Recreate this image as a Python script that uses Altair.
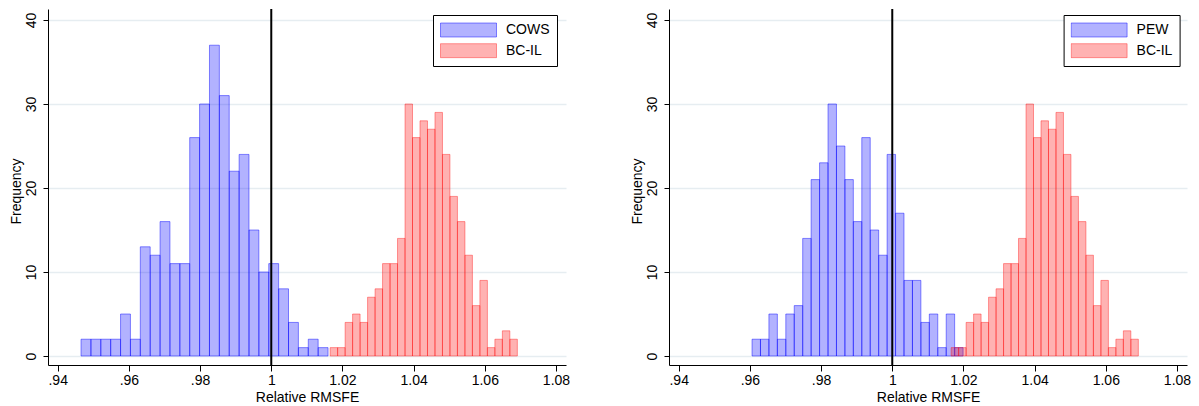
import altair as alt
import pandas as pd

# ---------------- data ----------------
left_series = ["COWS", "BC-IL"]
right_series = ["PEW", "BC-IL"]

cows_bin_start = 0.94655
cows_bin_width = 0.002776
cows_counts = [2, 2, 2, 2, 5, 2, 13, 12, 16, 11, 11, 26, 30, 37, 31, 22, 24, 15, 10, 11, 8, 4, 1, 2, 1]

pew_bin_start = 0.9606
pew_bin_width = 0.002372
pew_counts = [2, 2, 5, 2, 5, 6, 14, 21, 23, 30, 25, 21, 16, 26, 15, 12, 24, 17, 9, 9, 4, 5, 1, 5, 1]

bcil_bin_start = 1.01654
bcil_bin_width = 0.002104
bcil_counts = [1, 1, 4, 5, 4, 7, 8, 11, 11, 14, 30, 26, 28, 27, 29, 24, 19, 16, 12, 6, 9, 1, 2, 3, 2]

x_tick_values = [0.94, 0.96, 0.98, 1.0, 1.02, 1.04, 1.06, 1.08]
x_tick_labels = [".94", ".96", ".98", "1", "1.02", "1.04", "1.06", "1.08"]
y_tick_values = [0, 10, 20, 30, 40]
ref_line = [1.0]

x_domain = [0.93727, 1.08281]
y_domain = [-1.07, 41.31]

FONT = "Liberation Sans"
fill_range = ["rgba(0,0,255,0.3)", "rgba(255,0,0,0.3)"]
stroke_range = ["rgba(0,0,255,0.45)", "rgba(255,0,0,0.38)"]


def hist_rows(name, start, width, counts):
    return [
        {"series": name, "x0": start + i * width, "x1": start + (i + 1) * width, "count": c}
        for i, c in enumerate(counts)
    ]


label_expr = " : ".join(
    f"abs(datum.value - {v}) < 1e-6 ? '{t}'" for v, t in zip(x_tick_values, x_tick_labels)
) + " : ''"

x_axis = alt.Axis(
    values=x_tick_values, labelExpr=label_expr, grid=False,
    domainColor="black", domainWidth=1, tickColor="black", tickSize=6, tickWidth=1,
    labelFont=FONT, labelFontSize=14, labelColor="black", labelPadding=2,
    labelFlush=False, labelOverlap=False,
    titleFont=FONT, titleFontSize=14, titleColor="black", titleFontWeight="normal",
    titlePadding=3,
)

y_axis = alt.Axis(
    values=y_tick_values, grid=True, gridColor="#e6edf1", gridWidth=1.5,
    domainColor="black", domainWidth=1, tickColor="black", tickSize=5, tickWidth=1,
    labelFont=FONT, labelFontSize=14, labelColor="black",
    labelAngle=270, labelAlign="center", labelBaseline="alphabetic", labelPadding=8,
    labelFlush=False, labelOverlap=False,
    titleFont=FONT, titleFontSize=14, titleColor="black", titleFontWeight="normal",
    titleAngle=270, titleAlign="center", titleBaseline="alphabetic",
    titleX=-28, titleY=182,
)


def panel(rows, domain, legend_x):
    df = pd.DataFrame(rows)
    legend = alt.Legend(
        title=None, orient="none", legendX=legend_x, legendY=6,
        direction="vertical",
        symbolType="M-1,-0.25H1V0.25H-1Z", symbolSize=3136, symbolStrokeWidth=1,
        clipHeight=16, rowPadding=4.7, labelOffset=9, padding=7,
        labelFont=FONT, labelFontSize=14, labelColor="black",
        strokeColor="black", fillColor="white",
    )
    bars = alt.Chart(df).mark_bar(strokeWidth=1).encode(
        x=alt.X("x0:Q", scale=alt.Scale(domain=x_domain, nice=False, zero=False),
                axis=x_axis, title="Relative RMSFE"),
        x2="x1:Q",
        y=alt.Y("count:Q", scale=alt.Scale(domain=y_domain, nice=False, zero=False),
                axis=y_axis, title="Frequency"),
        y2=alt.datum(0),
        fill=alt.Fill("series:N", scale=alt.Scale(domain=domain, range=fill_range), legend=legend),
        stroke=alt.Stroke("series:N", scale=alt.Scale(domain=domain, range=stroke_range), legend=legend),
    )
    rule = alt.Chart(pd.DataFrame({"ref": ref_line})).mark_rule(
        color="black", strokeWidth=2
    ).encode(x=alt.X("ref:Q", title="Relative RMSFE"))
    return alt.layer(bars, rule).properties(width=518, height=356)


left = panel(
    hist_rows(left_series[0], cows_bin_start, cows_bin_width, cows_counts)
    + hist_rows(left_series[1], bcil_bin_start, bcil_bin_width, bcil_counts),
    left_series, 385,
)
right = panel(
    hist_rows(right_series[0], pew_bin_start, pew_bin_width, pew_counts)
    + hist_rows(right_series[1], bcil_bin_start, bcil_bin_width, bcil_counts),
    right_series, 394.6,
)

chart = (
    alt.hconcat(left, right, spacing=60)
    .resolve_scale(fill="independent", stroke="independent")
    .resolve_legend(fill="independent", stroke="independent")
    .properties(padding={"left": 1, "top": 0, "right": 0, "bottom": 0}, background="white")
    .configure_view(stroke=None)
)

chart.save("out.html", embed_options={"renderer": "svg", "actions": False})
